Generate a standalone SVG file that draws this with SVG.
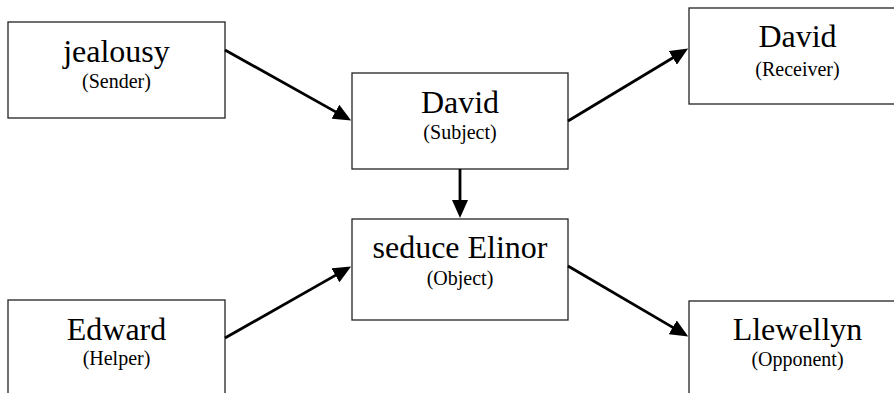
<svg xmlns="http://www.w3.org/2000/svg" width="894" height="393" viewBox="0 0 894 393">
<defs>
<marker id="ah" markerUnits="userSpaceOnUse" markerWidth="18" markerHeight="16" refX="8" refY="8" orient="auto">
<path d="M0,0 L18,8 L0,16 z" fill="#000"/>
</marker>
<style>
.box{fill:#fff;stroke:#222;stroke-width:1.3}
.lbl{font-family:'Liberation Serif',serif;fill:#000;text-anchor:middle}
.main{font-size:32px}
.sub{font-size:20px}
.conn{stroke:#000;stroke-width:2.8;fill:none;marker-end:url(#ah)}
</style>
</defs>
<rect width="894" height="393" fill="#fff"/>
<g id="sender"><rect class="box" x="8" y="22" width="217" height="96"/><text class="lbl main" x="116.5" y="62">jealousy</text><text class="lbl sub" x="116.5" y="88">(Sender)</text></g>
<g id="subject"><rect class="box" x="352" y="73" width="216" height="96"/><text class="lbl main" x="460" y="113">David</text><text class="lbl sub" x="460" y="139">(Subject)</text></g>
<g id="receiver"><rect class="box" x="689" y="8" width="217" height="96"/><text class="lbl main" x="797.5" y="47">David</text><text class="lbl sub" x="797.5" y="76">(Receiver)</text></g>
<g id="object"><rect class="box" x="352" y="219" width="216" height="101"/><text class="lbl main" x="460" y="258">seduce Elinor</text><text class="lbl sub" x="460" y="285">(Object)</text></g>
<g id="helper"><rect class="box" x="8" y="300" width="217" height="96"/><text class="lbl main" x="116.5" y="340">Edward</text><text class="lbl sub" x="116.5" y="365">(Helper)</text></g>
<g id="opponent"><rect class="box" x="689" y="301" width="217" height="96"/><text class="lbl main" x="797.5" y="340">Llewellyn</text><text class="lbl sub" x="797.5" y="366">(Opponent)</text></g>
<g id="connectors">
<line class="conn" x1="225" y1="50" x2="342.4" y2="115.6"/>
<line class="conn" x1="568" y1="121" x2="679.6" y2="53.7"/>
<line class="conn" x1="460" y1="169" x2="460" y2="208"/>
<line class="conn" x1="225" y1="338" x2="342.4" y2="271.4"/>
<line class="conn" x1="568" y1="266" x2="679.6" y2="331.4"/>
</g>
</svg>
